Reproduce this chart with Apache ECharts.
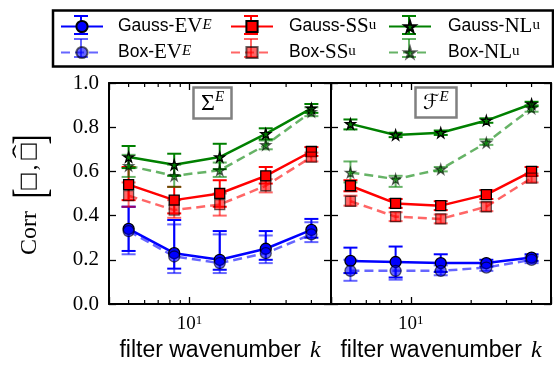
<!DOCTYPE html>
<html>
<head>
<meta charset="utf-8">
<script src="https://cdn.jsdelivr.net/npm/echarts@6/dist/echarts.min.js"></script>
<style>
  html, body { margin: 0; padding: 0; background: #fff; }
  #chart { width: 554px; height: 371px; }
</style>
</head>
<body>
<div id="chart"></div>
<script>
// filter wavenumbers of the five data points
const kValues = [5, 8.4, 14.1, 23.8, 40];
const minorTickValues = [5, 6, 7, 8, 9, 20, 30, 40];

// rows are [corr, errLow, errHigh]; left panel = Sigma^E
const sigmaGaussEV = [[0.34, 0.24, 0.44], [0.23, 0.16, 0.38], [0.20, 0.155, 0.33], [0.25, 0.20, 0.33], [0.335, 0.30, 0.385]];
const sigmaBoxEV = [[0.33, 0.225, 0.44], [0.215, 0.14, 0.36], [0.185, 0.14, 0.315], [0.23, 0.185, 0.31], [0.315, 0.28, 0.37]];
const sigmaGaussSS = [[0.54, 0.47, 0.62], [0.47, 0.41, 0.53], [0.50, 0.44, 0.56], [0.58, 0.545, 0.62], [0.69, 0.67, 0.71]];
const sigmaBoxSS = [[0.49, 0.44, 0.55], [0.425, 0.39, 0.47], [0.45, 0.40, 0.50], [0.535, 0.505, 0.565], [0.665, 0.645, 0.685]];
const sigmaGaussNL = [[0.665, 0.615, 0.715], [0.63, 0.58, 0.68], [0.665, 0.61, 0.725], [0.77, 0.745, 0.795], [0.885, 0.865, 0.905]];
const sigmaBoxNL = [[0.625, 0.575, 0.675], [0.58, 0.53, 0.63], [0.605, 0.575, 0.64], [0.72, 0.70, 0.74], [0.87, 0.85, 0.89]];

// right panel = F^E
const fluxGaussEV = [[0.195, 0.14, 0.255], [0.19, 0.12, 0.26], [0.185, 0.145, 0.225], [0.185, 0.17, 0.20], [0.21, 0.195, 0.225]];
const fluxBoxEV = [[0.15, 0.105, 0.20], [0.15, 0.11, 0.19], [0.15, 0.13, 0.175], [0.165, 0.15, 0.18], [0.20, 0.185, 0.215]];
const fluxGaussSS = [[0.535, 0.51, 0.56], [0.455, 0.435, 0.475], [0.445, 0.425, 0.465], [0.495, 0.475, 0.515], [0.60, 0.58, 0.62]];
const fluxBoxSS = [[0.465, 0.445, 0.49], [0.395, 0.375, 0.415], [0.385, 0.365, 0.405], [0.44, 0.42, 0.46], [0.57, 0.55, 0.59]];
const fluxGaussNL = [[0.815, 0.79, 0.835], [0.765, 0.755, 0.775], [0.775, 0.765, 0.785], [0.83, 0.82, 0.84], [0.905, 0.895, 0.915]];
const fluxBoxNL = [[0.595, 0.55, 0.645], [0.565, 0.53, 0.58], [0.61, 0.60, 0.62], [0.73, 0.72, 0.745], [0.885, 0.87, 0.90]];

// legend columns, as matplotlib lays them out (column-major)
const legendColumns = [['Gauss-EV', 'Box-EV'], ['Gauss-SS', 'Box-SS'], ['Gauss-NL', 'Box-NL']];
const legendLabels = {
  'Gauss-EV': '{s|Gauss-}{m|EV}{supi|E}',
  'Box-EV': '{s|Box-}{m|EV}{supi|E}',
  'Gauss-SS': '{s|Gauss-}{m|SS}{sup|u}',
  'Box-SS': '{s|Box-}{m|SS}{sup|u}',
  'Gauss-NL': '{s|Gauss-}{m|NL}{sup|u}',
  'Box-NL': '{s|Box-}{m|NL}{sup|u}',
};

const STAR = 'path://M50,0 L61,35 L98,35 L68,57 L79,91 L50,70 L21,91 L32,57 L2,35 L39,35 Z';
const STYLE = {
  'Gauss-EV': { color: '#0000ff', symbol: 'circle', size: 11, dashed: false },
  'Box-EV': { color: '#0000ff', symbol: 'circle', size: 11, dashed: true },
  'Gauss-SS': { color: '#ff0000', symbol: 'rect', size: 10, dashed: false },
  'Box-SS': { color: '#ff0000', symbol: 'rect', size: 10, dashed: true },
  'Gauss-NL': { color: '#008000', symbol: STAR, size: 10, dashed: false },
  'Box-NL': { color: '#008000', symbol: STAR, size: 10, dashed: true },
};

const panels = [
  { 'Gauss-EV': sigmaGaussEV, 'Box-EV': sigmaBoxEV, 'Gauss-SS': sigmaGaussSS, 'Box-SS': sigmaBoxSS, 'Gauss-NL': sigmaGaussNL, 'Box-NL': sigmaBoxNL },
  { 'Gauss-EV': fluxGaussEV, 'Box-EV': fluxBoxEV, 'Gauss-SS': fluxGaussSS, 'Box-SS': fluxBoxSS, 'Gauss-NL': fluxGaussNL, 'Box-NL': fluxBoxNL },
];

const serif = 'Liberation Serif';
const sans = 'Liberation Sans';

function makeSeries(panel, name, rows) {
  const st = STYLE[name];
  const op = st.dashed ? 0.6 : 1;
  const line = {
    type: 'line',
    name,
    xAxisIndex: panel * 2,
    yAxisIndex: panel * 2,
    data: kValues.map((k, i) => [k, rows[i][0]]),
    symbol: st.symbol,
    symbolSize: st.size,
    showSymbol: true,
    silent: true,
    z: 4,
    lineStyle: { color: st.color, width: 2.5, type: st.dashed ? [9, 5] : 'solid', opacity: op },
    itemStyle: { color: st.color, borderColor: '#000', borderWidth: 1.3, opacity: op },
  };
  const err = {
    type: 'custom',
    name,
    xAxisIndex: panel * 2,
    yAxisIndex: panel * 2,
    silent: true,
    z: 3,
    data: kValues.map((k, i) => [k, rows[i][1], rows[i][2]]),
    renderItem: (params, api) => {
      const lo = api.coord([api.value(0), api.value(1)]);
      const hi = api.coord([api.value(0), api.value(2)]);
      const w = 7;
      const style = { stroke: st.color, lineWidth: 2, opacity: op };
      return {
        type: 'group',
        children: [
          { type: 'line', shape: { x1: lo[0], y1: lo[1], x2: hi[0], y2: hi[1] }, style },
          { type: 'line', shape: { x1: lo[0] - w, y1: lo[1], x2: lo[0] + w, y2: lo[1] }, style },
          { type: 'line', shape: { x1: hi[0] - w, y1: hi[1], x2: hi[0] + w, y2: hi[1] }, style },
        ],
      };
    },
  };
  return [line, err];
}

function minorTicks(panel) {
  return {
    type: 'custom',
    xAxisIndex: panel * 2,
    yAxisIndex: panel * 2,
    silent: true,
    z: 5,
    data: minorTickValues.map((v) => [v, 0]),
    renderItem: (params, api) => {
      const x = api.coord([api.value(0), 0])[0];
      const cs = params.coordSys;
      const style = { stroke: '#000', lineWidth: 1.2 };
      const yb = cs.y + cs.height;
      return {
        type: 'group',
        children: [
          { type: 'line', shape: { x1: x, y1: yb, x2: x, y2: yb - 4 }, style },
          { type: 'line', shape: { x1: x, y1: cs.y, x2: x, y2: cs.y + 4 }, style },
        ],
      };
    },
  };
}

const axisLine = { show: true, onZero: false, lineStyle: { color: '#000', width: 2 } };
const axisTick = { show: true, inside: true, length: 7, lineStyle: { color: '#000', width: 1.3 } };

function xAxes(grid) {
  const base = { type: 'log', logBase: 10, min: 4, max: 50, gridIndex: grid, axisLine, axisTick, splitLine: { show: false } };
  return [
    {
      ...base,
      position: 'bottom',
      name: '{a|filter wavenumber}{k|k}',
      nameLocation: 'middle',
      nameGap: 32,
      nameTextStyle: {
        rich: {
          a: { fontFamily: sans, fontSize: 23, color: '#000' },
          k: { fontFamily: serif, fontStyle: 'italic', fontSize: 24, color: '#000', padding: [0, 0, 0, 9] },
        },
      },
      axisLabel: {
        margin: 10,
        formatter: (v) => (Math.abs(v - 10) < 1e-6 ? '{b|10}{s|1}' : ''),
        rich: {
          b: { fontFamily: serif, fontSize: 19, color: '#000', lineHeight: 20 },
          s: { fontFamily: serif, fontSize: 13, color: '#000', verticalAlign: 'top', lineHeight: 13 },
        },
      },
    },
    { ...base, position: 'top', axisLabel: { show: false } },
  ];
}

function yAxes(grid, withLabels) {
  const base = { type: 'value', min: 0, max: 1, interval: 0.2, gridIndex: grid, axisLine, axisTick, splitLine: { show: false } };
  const left = {
    ...base,
    position: 'left',
    axisLabel: withLabels
      ? { show: true, margin: 10, color: '#000', fontFamily: serif, fontSize: 21, formatter: (v) => v.toFixed(1) }
      : { show: false },
  };
  return [left, { ...base, position: 'right', axisLabel: { show: false } }];
}

const series = [];
panels.forEach((p, i) => {
  ['Gauss-EV', 'Box-EV', 'Gauss-SS', 'Box-SS', 'Gauss-NL', 'Box-NL'].forEach((name) => {
    series.push(...makeSeries(i, name, p[name]));
  });
  series.push(minorTicks(i));
});

const boxTitle = (text, left) => ({
  text,
  left,
  top: 87,
  padding: [3, 8, 3, 8],
  borderColor: '#808080',
  borderWidth: 2.5,
  backgroundColor: '#fff',
  textStyle: {
    fontWeight: 'normal',
    rich: {
      m: { fontFamily: serif, fontWeight: 'normal', fontSize: 24, color: '#000', lineHeight: 28 },
      f: { fontFamily: 'DejaVu Sans', fontWeight: 'normal', fontStyle: 'italic', fontSize: 21, color: '#000', lineHeight: 28 },
      sup: { fontFamily: serif, fontWeight: 'normal', fontStyle: 'italic', fontSize: 15, color: '#000', verticalAlign: 'top', lineHeight: 17 },
    },
  },
});

const legendRich = {
  s: { fontFamily: sans, fontSize: 17.5, color: '#000', lineHeight: 18 },
  m: { fontFamily: serif, fontSize: 21, color: '#000', lineHeight: 18 },
  sup: { fontFamily: serif, fontSize: 15, color: '#000', verticalAlign: 'top', lineHeight: 12 },
  supi: { fontFamily: serif, fontStyle: 'italic', fontSize: 15, color: '#000', verticalAlign: 'top', lineHeight: 12 },
};
const legendLefts = [60, 230, 388];
const legendTextGaps = [10, 11, 12];
const legendTop = 16;
const legendRowStep = 23;

const legends = legendColumns.map((names, i) => ({
  data: names,
  left: legendLefts[i],
  top: legendTop,
  orient: 'vertical',
  itemWidth: 42,
  itemHeight: 14,
  itemGap: 5,
  padding: 0,
  z: 10,
  selectedMode: false,
  formatter: (name) => legendLabels[name],
  textStyle: { padding: [0, 0, 0, legendTextGaps[i]], rich: legendRich },
}));

// error-bar glyphs behind the legend samples, like matplotlib's errorbar handles
const legendErrGlyphs = [];
legendColumns.forEach((names, i) => {
  names.forEach((name, r) => {
    const st = STYLE[name];
    const cx = legendLefts[i] + 21;
    const cy = legendTop + 9 + r * legendRowStep;
    const style = { stroke: st.color, lineWidth: 2, opacity: st.dashed ? 0.6 : 1 };
    legendErrGlyphs.push({
      type: 'group',
      z: 5,
      children: [
        { type: 'line', shape: { x1: cx, y1: cy - 9, x2: cx, y2: cy + 9 }, style },
        { type: 'line', shape: { x1: cx - 7, y1: cy - 9, x2: cx + 7, y2: cy - 9 }, style },
        { type: 'line', shape: { x1: cx - 7, y1: cy + 9, x2: cx + 7, y2: cy + 9 }, style },
      ],
    });
  });
});

// y-axis label  Corr[□, □̂], rotated, built from text pieces
const yLabelText = (text, x, y, size, family, extra) => ({
  type: 'text', x, y, ...(extra || {}),
  style: { text, font: size + 'px "' + family + '"', fill: '#000', align: 'center', verticalAlign: 'middle' },
});
const yLabel = {
  type: 'group',
  x: 30,
  y: 195.5,
  rotation: Math.PI / 2,
  z: 100,
  children: [
    { type: 'text', x: -59.5, y: 0, style: { text: 'Corr', font: '24px "Liberation Serif"', fill: '#000', align: 'left', verticalAlign: 'middle' } },
    { type: 'text', x: -3, y: 3, scaleY: 1.55, style: { text: '[', font: '30px "Liberation Serif"', fill: '#000', align: 'left', verticalAlign: 'middle' } },
    yLabelText('□', 14, -1, 21, 'DejaVu Sans'),
    yLabelText(',', 28, 0, 24, 'Liberation Serif'),
    yLabelText('□', 44, -1, 21, 'DejaVu Sans'),
    yLabelText('ˆ', 44, -7, 24, 'Liberation Serif', { scaleX: 1.7 }),
    { type: 'text', x: 61, y: 3, scaleY: 1.55, style: { text: ']', font: '30px "Liberation Serif"', fill: '#000', align: 'right', verticalAlign: 'middle' } },
  ],
};

const chart = echarts.init(document.getElementById('chart'));
chart.setOption({
  animation: false,
  backgroundColor: '#fff',
  title: [boxTitle('{m|Σ}{sup|E}', 193), boxTitle('{f|ℱ}{sup|E}', 415)],
  legend: legends,
  graphic: [
    // legend frame
    { type: 'rect', shape: { x: 53, y: 10.5, width: 500, height: 56 }, style: { fill: null, stroke: '#000', lineWidth: 2.5 }, z: 100 },
    ...legendErrGlyphs,
    yLabel,
  ],
  grid: [
    { left: 109, width: 222, top: 83, bottom: 67 },
    { left: 331, width: 221, top: 83, bottom: 67 },
  ],
  xAxis: [...xAxes(0), ...xAxes(1)],
  yAxis: [...yAxes(0, true), ...yAxes(1, false)],
  series,
});
</script>
</body>
</html>
